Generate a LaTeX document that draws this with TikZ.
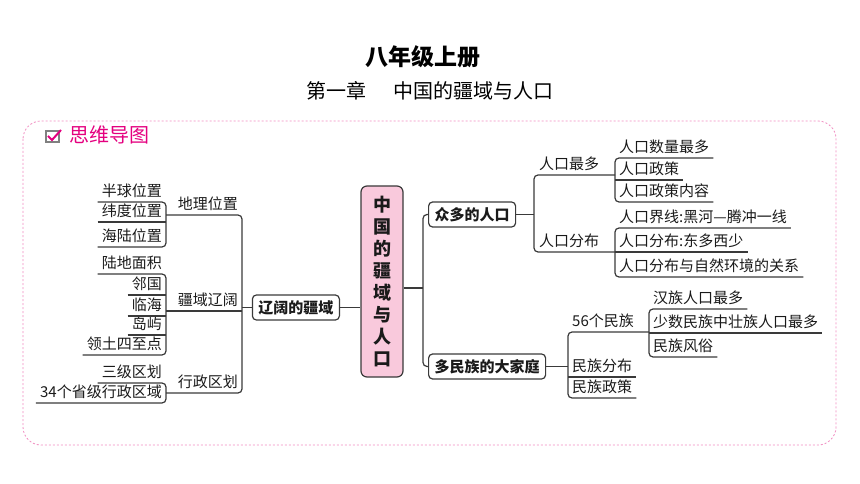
\documentclass[tikz,border=0pt]{standalone}
\usepackage{fontspec}
\setmainfont{Noto Sans CJK SC}
\usepackage{xcolor}
\usetikzlibrary{positioning}

\definecolor{linec}{HTML}{3A3A3A}
\definecolor{textc}{HTML}{1A1A1A}
\definecolor{hubfill}{HTML}{F9C9DC}
\definecolor{rose}{HTML}{E4007F}
\definecolor{frame}{HTML}{F08CC0}

\begin{document}
\begin{tikzpicture}[
    x=1pt, y=-1pt,
    link/.style={draw=linec, line width=1.2pt, rounded corners=4pt},
    leaf/.style={inner xsep=4pt, inner ysep=2.8pt, text height=12pt, text depth=2.5pt, text=textc, font=\fontsize{15}{18}\selectfont},
    topic/.style={draw=linec, line width=1.2pt, rounded corners=4pt, minimum height=25pt, inner xsep=6pt, text=textc, font=\bfseries\fontsize{15}{18}\selectfont},
    hub/.style={draw=linec, line width=1.2pt, rounded corners=6pt, fill=hubfill, minimum width=42pt, minimum height=191pt, inner sep=0pt, align=center, text=textc, font=\bfseries\fontsize{18}{22}\selectfont}
]
\useasboundingbox (0,0) rectangle (860,484);

% Heading
\node[font=\bfseries\fontsize{23}{26}\selectfont] (book) at (422.5,57) {八年级上册};
\node[font=\fontsize{20}{24}\selectfont] (chap) at (429.5,91) {第一章\hspace{27pt}中国的疆域与人口};

% Frame and badge
\draw[frame, dashed, dash pattern=on 2pt off 2pt, line width=0.8pt, rounded corners=18pt] (23,121) rectangle (836,445);
\draw[gray, line width=1.3pt] (46,131) rectangle (59,142);
\draw[rose, line width=2pt] (48,136) -- (52,140) -- (61,130);
\node[anchor=west, text=rose, font=\fontsize{20}{24}\selectfont] (badge) at (66,135) {思维导图};

% Centre
\node[hub] (core) at (382,281.5) {中\\国\\的\\疆\\域\\与\\人\\口};
\coordinate (cj) at (423,288);

% Left half: territory
\node[topic, anchor=east] (vast) at (340,307.5) {辽阔的疆域};

\node[leaf, anchor=south east] (geo) at (242,215) {地理位置};
\node[leaf, anchor=south east] (ter) at (242,311) {疆域辽阔};
\node[leaf, anchor=south east] (adm) at (242,393) {行政区划};

\node[leaf, anchor=south east] (hemi) at (166,202) {半球位置};
\node[leaf, anchor=south east] (lat) at (166,222) {纬度位置};
\node[leaf, anchor=south east] (sea) at (166,247) {海陆位置};

\node[leaf, anchor=south east] (land) at (166,274) {陆地面积};
\node[leaf, anchor=south east] (nbr) at (166,295) {邻国};
\node[leaf, anchor=south east] (coast) at (166,316) {临海};
\node[leaf, anchor=south east] (isle) at (166,335) {岛屿};
\node[leaf, anchor=south east] (ext) at (166,355) {领土四至点};

\node[leaf, anchor=south east] (tier) at (166,383) {三级区划};
\node[leaf, anchor=south east] (prov) at (166,403) {34个省级行政区域};

\draw[link] (vast.east) -- (vast.east -| core.west);
\draw[link] (vast.west) -- (vast.west -| geo.south east);
\draw[link] (geo.south east -| hemi.south east) -- (geo.south east) -- (adm.south east) -- (adm.south east -| tier.south east);
\draw[link] (ter.south east -| land.south east) -- (ter.south east);

\draw[link] (hemi.south west) -- (hemi.south east) -- (sea.south east) -- (sea.south west);
\draw[link] (lat.south west) -- (lat.south east);

\draw[link] (land.south west) -- (land.south east) -- (ext.south east) -- (ext.south west);
\draw[link] (nbr.south west) -- (nbr.south east);
\draw[link] (coast.south west) -- (coast.south east);
\draw[link] (isle.south west) -- (isle.south east);

\draw[link] (tier.south west) -- (tier.south east) -- (prov.south east) -- (prov.south west);

% Right half: population
\node[topic, anchor=west] (pop) at (428,214.5) {众多的人口};
\node[topic, anchor=west] (fam) at (428,366.5) {多民族的大家庭};

\draw[link] (core.east |- cj) -- (cj);
\draw[link] (pop.west) -- (pop.west -| cj) -- (fam.west -| cj) -- (fam.west);

\node[leaf, anchor=south west, inner xsep=5pt] (rmost) at (534,175) {人口最多};
\node[leaf, anchor=south west, inner xsep=5pt] (rdist) at (534,252) {人口分布};

\node[leaf, anchor=south west] (rnum) at (615,158) {人口数量最多};
\node[leaf, anchor=south west] (rpol) at (615,180) {人口政策};
\node[leaf, anchor=south west] (rcont) at (615,202) {人口政策内容};

\node[leaf, anchor=south west] (rline) at (615,228) {人口界线:黑河—腾冲一线};
\node[leaf, anchor=south west] (reast) at (615,252) {人口分布:东多西少};
\node[leaf, anchor=south west] (renv) at (615,277) {人口分布与自然环境的关系};

\draw[link] (pop.east) -- (pop.east -| rmost.south west);
\draw[link] (rmost.south west -| rnum.south west) -- (rmost.south west) -- (rdist.south west) -- (rdist.south west -| rline.south west);

\draw[link] (rnum.south east) -- (rnum.south west) -- (rcont.south west) -- (rcont.south east);
\draw[link] (rpol.south west) -- (rpol.south east);

\draw[link] (rline.south east) -- (rline.south west) -- (renv.south west) -- (renv.south east);
\draw[link] (reast.south west) -- (reast.south east);

% Right half: nationalities
\node[leaf, anchor=south west] (nat) at (568,332) {56个民族};
\node[leaf, anchor=south west] (ndist) at (568,377) {民族分布};
\node[leaf, anchor=south west] (npol) at (568,398) {民族政策};

\node[leaf, anchor=south west] (han) at (649,309) {汉族人口最多};
\node[leaf, anchor=south west] (zhuang) at (649,333) {少数民族中壮族人口最多};
\node[leaf, anchor=south west] (cust) at (649,357) {民族风俗};

\draw[link] (fam.east) -- (fam.east -| nat.south west);
\draw[link] (nat.south west -| han.south west) -- (nat.south west) -- (npol.south west) -- (npol.south east);
\draw[link] (ndist.south west) -- (ndist.south east);

\draw[link] (han.south east) -- (han.south west) -- (cust.south west) -- (cust.south east);
\draw[link] (zhuang.south west) -- (zhuang.south east);

\end{tikzpicture}
\end{document}
